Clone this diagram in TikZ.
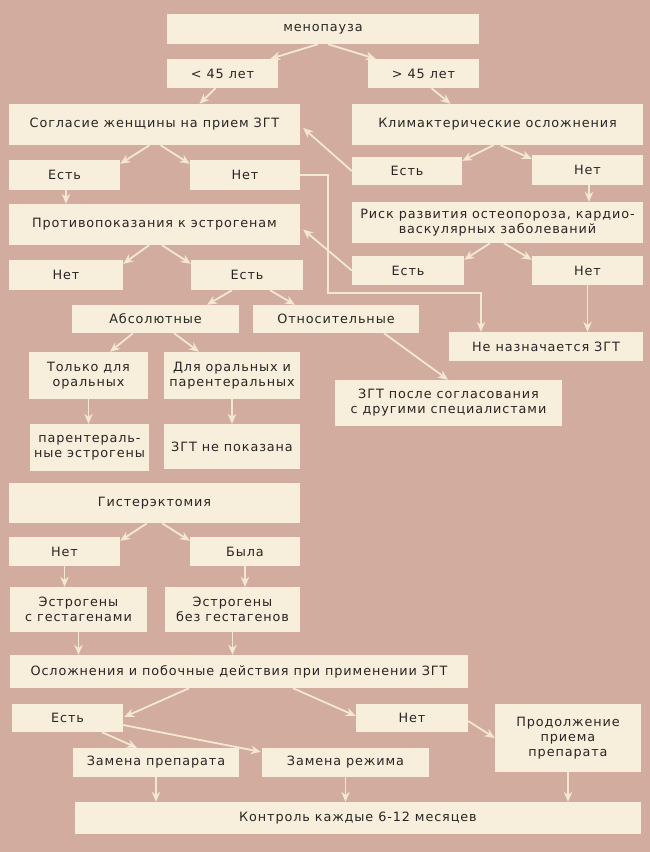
\documentclass[tikz,border=0pt]{standalone}
\usepackage{fontspec}
\setmainfont{DejaVu Sans}[LetterSpace=7]
\usetikzlibrary{arrows.meta,calc}
\definecolor{bg}{HTML}{D3ACA0}
\definecolor{boxc}{HTML}{F7EEDB}
\definecolor{linec}{HTML}{F3E8D2}
\definecolor{txt}{HTML}{2A2525}
\tikzset{
 box/.style={fill=boxc,draw=none,inner sep=0pt,align=center,text=txt,font=\fontsize{12.8}{15}\selectfont},
 arr/.style={draw=linec,line width=1.8pt,-{Stealth[length=10pt,width=8.5pt]}},
}
\newcommand\bx[6]{\node[box,minimum width={#4-#2},minimum height={#5-#3}] (#1) at ({(#2+#4)/2},{(#3+#5)/2}) {#6};}
\begin{document}
\begin{tikzpicture}[x=1pt,y=-1pt]
\fill[bg] (0,0) rectangle (650,852);
\useasboundingbox (0,0) rectangle (650,852);
\bx{meno}{167}{14}{479}{44}{менопауза}
\bx{lt}{167}{59}{278}{88}{< 45 лет}
\bx{gt}{368}{59}{479}{88}{> 45 лет}
\bx{sogl}{9}{104}{300}{145}{Согласие женщины на прием ЗГТ}
\bx{klim}{352}{104}{643}{145}{Климактерические осложнения}
\bx{est1}{9}{160}{120}{190}{Есть}
\bx{net1}{190}{160}{300}{190}{Нет}
\bx{est2}{352}{157}{462}{185}{Есть}
\bx{net2}{532}{155}{643}{185}{Нет}
\bx{risk}{352}{202}{643}{243}{Риск развития остеопороза, кардио-\\васкулярных заболеваний}
\bx{prot}{9}{204}{300}{245}{Противопоказания к эстрогенам}
\bx{net3}{9}{260}{123}{290}{Нет}
\bx{est3}{191}{260}{303}{290}{Есть}
\bx{est4}{352}{256}{464}{285}{Есть}
\bx{net4}{532}{256}{643}{285}{Нет}
\bx{abs}{72}{305}{239}{333}{Абсолютные}
\bx{otn}{253}{305}{419}{333}{Относительные}
\bx{nen}{449}{332}{643}{361}{Не назначается ЗГТ}
\bx{tol}{29}{352}{148}{399}{Только для\\оральных}
\bx{dly}{164}{352}{300}{399}{Для оральных и\\парентеральных}
\bx{zgp}{335}{380}{562}{426}{ЗГТ после согласования\\с другими специалистами}
\bx{par}{30}{424}{149}{471}{парентераль-\\ные эстрогены}
\bx{zgn}{164}{424}{300}{469}{ЗГТ не показана}
\bx{gis}{9}{483}{300}{523}{Гистерэктомия}
\bx{net5}{9}{537}{120}{566}{Нет}
\bx{byl}{190}{537}{300}{566}{Была}
\bx{ess}{10}{587}{147}{632}{Эстрогены\\с гестагенами}
\bx{esb}{165}{587}{300}{632}{Эстрогены\\без гестагенов}
\bx{osl}{10}{655}{468}{688}{Осложнения и побочные действия при применении ЗГТ}
\bx{est6}{12}{704}{123}{732}{Есть}
\bx{net6}{356}{704}{468}{732}{Нет}
\bx{pro}{495}{704}{641}{772}{Продолжение\\приема\\препарата}
\bx{zp}{73}{748}{239}{777}{Замена препарата}
\bx{zr}{262}{748}{429}{777}{Замена режима}
\bx{kon}{75}{802}{641}{834}{Контроль каждые 6-12 месяцев}

\draw[arr] ($(meno.south)+(-5,0)$) -- ($(lt.north east)+(-8,0)$);
\draw[arr] ($(meno.south)+(5,0)$) -- ($(gt.north west)+(8,0)$);
\draw[arr] ($(lt.south)+(-7,0)$) -- ($(sogl.north)+(45,0)$);
\draw[arr] ($(gt.south)+(8,0)$) -- ($(klim.north)+(-47,0)$);
\draw[arr] ($(sogl.south)+(-5,0)$) -- ($(est1.north east)+(0,4)$);
\draw[arr] ($(sogl.south)+(6,0)$) -- ($(net1.north west)+(0,4)$);
\draw[arr] ($(klim.south)+(-4,0)$) -- ($(est2.north east)+(0,4)$);
\draw[arr] ($(klim.south)+(3,0)$) -- ($(net2.north west)+(0,4)$);
\draw[arr] (est2.west) -- ($(sogl.east)+(3,3.5)$);
\draw[arr] ($(net2.south)+(1.5,0)$) -- ($(risk.north)+(91.5,0)$);
\draw[arr] ($(est1.south)+(1.5,0)$) -- ($(prot.north)+(-88.5,0)$);
\draw[arr] ($(risk.south)+(-7.5,0)$) -- ($(est4.north east)+(0,4)$);
\draw[arr] ($(risk.south)+(6.5,0)$) -- ($(net4.north west)+(0,4)$);
\draw[arr] (est4.west) -- ($(prot.east)+(3,5)$);
\draw[arr] ($(prot.south)+(-5.5,0)$) -- ($(net3.north east)+(0,4)$);
\draw[arr] ($(prot.south)+(7.5,0)$) -- ($(est3.north west)+(0,4)$);
\draw[arr] (net1.east) -- ++(28,0) |- ($(nen.north)+(-65,-39)$) -- ($(nen.north)+(-65,0)$);
\draw[arr] (net4.south) -- ($(nen.north)+(41.5,0)$);
\draw[arr] ($(est3.south)+(-15,0)$) -- ($(abs.north)+(51.5,0)$);
\draw[arr] ($(est3.south)+(23,0)$) -- ($(otn.north)+(-41,0)$);
\draw[arr] ($(abs.south)+(-22.5,0)$) -- ($(tol.north)+(21.5,0)$);
\draw[arr] ($(abs.south)+(18.5,0)$) -- ($(dly.north)+(-33,0)$);
\draw[arr] ($(otn.south)+(48,0)$) -- ($(zgp.north)+(-0.5,0)$);
\draw[arr] (tol.south) -- (tol.south |- par.north);
\draw[arr] (dly.south) -- (dly.south |- zgn.north);
\draw[arr] ($(gis.south)+(-7.5,0)$) -- ($(net5.north east)+(0,4)$);
\draw[arr] ($(gis.south)+(7.5,0)$) -- ($(byl.north west)+(0,4)$);
\draw[arr] (net5.south) -- (net5.south |- ess.north);
\draw[arr] (byl.south) -- (byl.south |- esb.north);
\draw[arr] (ess.south) -- (ess.south |- osl.north);
\draw[arr] (esb.south) -- (esb.south |- osl.north);
\draw[arr] ($(osl.south)+(-50,0)$) -- ($(est6.east)+(1,-1)$);
\draw[arr] ($(osl.south)+(54,0)$) -- ($(net6.west)+(0,-2)$);
\draw[arr] ($(net6.east)+(0,3)$) -- (pro.west);
\draw[arr] ($(est6.south)+(34.5,0)$) -- ($(zp.north)+(-19,0)$);
\draw[arr] ($(est6.east)+(0,7)$) -- ($(zr.north west)+(-1,4)$);
\draw[arr] (zp.south) -- (zp.south |- kon.north);
\draw[arr] (zr.south) -- (zr.south |- kon.north);
\draw[arr] (pro.south) -- (pro.south |- kon.north);
\end{tikzpicture}
\end{document}
